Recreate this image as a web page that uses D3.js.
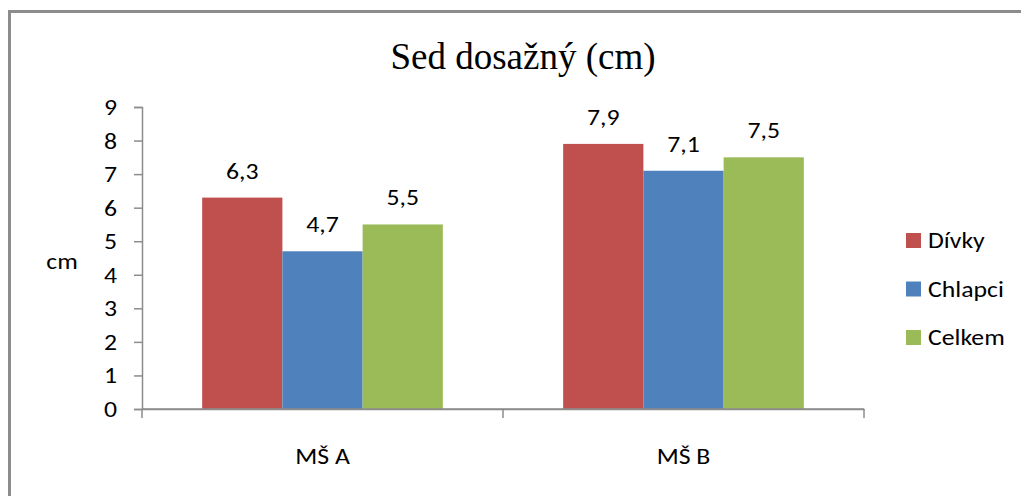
<!DOCTYPE html>
<html><head><meta charset="utf-8">
<script src="https://cdn.jsdelivr.net/npm/d3@7"></script>
<style>
html,body{margin:0;padding:0;background:#fff;}
text{font-family:Carlito,Calibri,Lato,sans-serif;}
</style></head>
<body><svg id="c" width="1021" height="496"></svg>
<script>
const categories = ["MŠ A", "MŠ B"];
const seriesNames = ["Dívky", "Chlapci", "Celkem"];
const divky = [6.3, 7.9];
const chlapci = [4.7, 7.1];
const celkem = [5.5, 7.5];
const yTicks = [0,1,2,3,4,5,6,7,8,9];
const colors = ["#C0504D", "#4F81BD", "#9BBB59"];
const title = "Sed dosažný (cm)";
const yLabel = "cm";

const series = [divky, chlapci, celkem];
const svg = d3.select("#c");
const FS = "23px";
const SX = 1.12;
const FF = "Carlito,Calibri,Lato,sans-serif";

function stext(sel, x, y, anchor, str){
  return sel.append("text").attr("transform",`translate(${x},${y}) scale(${SX},1)`)
    .attr("text-anchor",anchor).style("font-size",FS).style("font-family",FF).attr("fill","#000").text(str);
}

// outer border
svg.append("rect").attr("x",9.5).attr("y",11.5).attr("width",1030).attr("height",500)
  .attr("fill","none").attr("stroke","#8c8c8c").attr("stroke-width",3);

const x0 = d3.scaleBand().domain(categories).range([142,864]).paddingInner(0).paddingOuter(0);
const bw = x0.bandwidth();
const x1 = d3.scaleBand().domain(seriesNames).range([bw/6, bw*5/6]).paddingInner(0).paddingOuter(0);
const y = d3.scaleLinear().domain([0,9]).range([409,107]);

// title
svg.append("text").attr("x",523).attr("y",69).attr("text-anchor","middle")
  .style("font-family","'Liberation Serif','Times New Roman',serif").style("font-size","37px").attr("fill","#000").text(title);

// y axis
const ya = svg.append("g").attr("transform","translate(142,0)")
  .call(d3.axisLeft(y).tickValues(yTicks).tickSize(8).tickPadding(0).tickFormat(d3.format("d")));
ya.select(".domain").attr("stroke","#8c8c8c").attr("stroke-width",1.5);
ya.selectAll(".tick line").attr("stroke","#8c8c8c").attr("stroke-width",1.5);
ya.selectAll(".tick text").attr("x",0).attr("dy",null).attr("dominant-baseline","central")
  .attr("transform",`translate(-25,0) scale(${SX},1)`)
  .style("font-size",FS).style("font-family",FF).attr("fill","#000");

// x axis
const xa = svg.append("g").attr("transform","translate(0,409)")
  .call(d3.axisBottom(x0).tickSize(0).tickPadding(39));
xa.select(".domain").attr("stroke","#8c8c8c").attr("stroke-width",1.5);
xa.selectAll(".tick text").attr("transform",`scale(${SX},1)`)
  .style("font-size",FS).style("font-family",FF).attr("fill","#000");
const bounds = [x0.range()[0], ...categories.map(c=>x0(c)+x0.bandwidth())];
xa.selectAll("line.bt").data(bounds).enter().append("line").attr("class","bt")
  .attr("x1",d=>d).attr("x2",d=>d).attr("y1",0).attr("y2",9)
  .attr("stroke","#8c8c8c").attr("stroke-width",1.5);

// y label
stext(svg, 62, 269, "middle", yLabel);

// bars
const g = svg.append("g");
series.forEach((vals,si)=>{
  g.selectAll(null).data(vals).enter().append("rect")
    .attr("x",(d,i)=>x0(categories[i])+x1(seriesNames[si]))
    .attr("y",d=>y(d))
    .attr("width",x1.bandwidth())
    .attr("height",d=>y(0)-y(d))
    .attr("fill",colors[si]);
  vals.forEach((d,i)=>{
    stext(g, x0(categories[i])+x1(seriesNames[si])+x1.bandwidth()/2, y(d)-19, "middle",
      d3.format(".1f")(d).replace(".",","));
  });
});

svg.append("line").attr("x1",142).attr("x2",864).attr("y1",409).attr("y2",409)
  .attr("stroke","#8c8c8c").attr("stroke-width",1.5);

// legend
const leg = svg.append("g");
const legY = [240.5, 289, 337.5];
seriesNames.forEach((n,i)=>{
  leg.append("rect").attr("x",906).attr("y",legY[i]-7.5).attr("width",15).attr("height",15).attr("fill",colors[i]);
  stext(leg, 928, legY[i]+7.5, "start", n);
});
</script></body></html>
